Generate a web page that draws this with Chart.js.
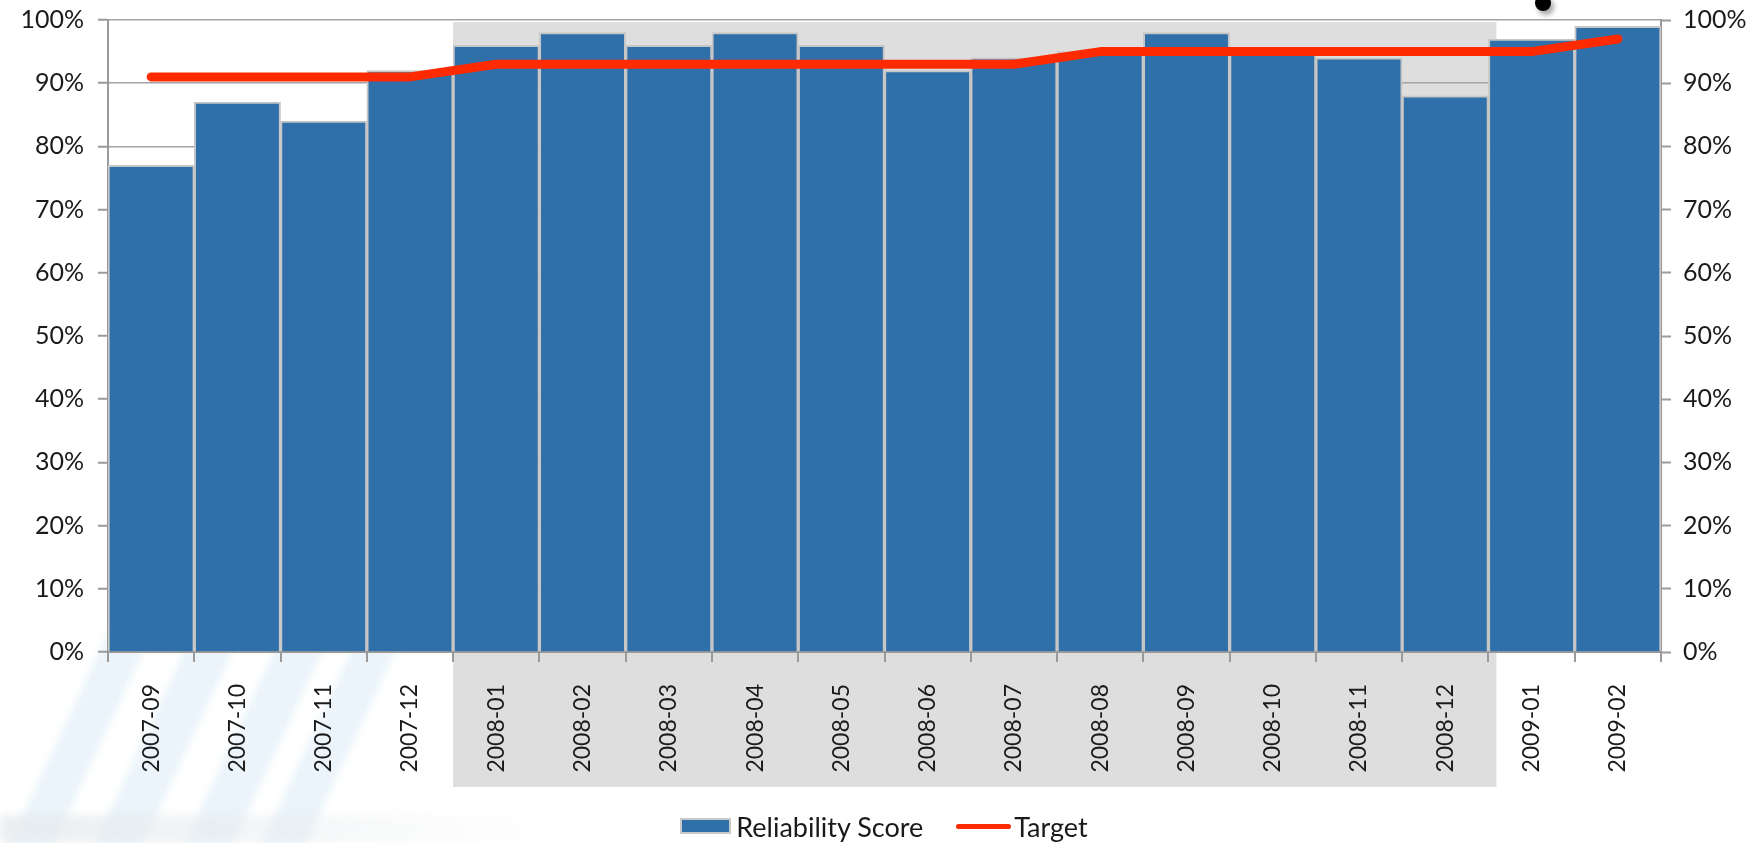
<!DOCTYPE html>
<html>
<head>
<meta charset="utf-8">
<script src="https://cdn.jsdelivr.net/npm/chart.js@4/dist/chart.umd.min.js"></script>
<style>
  html, body { margin: 0; padding: 0; background: #ffffff; overflow: hidden; }
  #wrap { position: relative; width: 1762px; height: 843px; }
  #deco { position: absolute; left: 0; top: 0; width: 1762px; height: 843px; overflow: hidden; z-index: 0; }
  .stripe { position: absolute; background: #eaf4fa; transform-origin: 0 100%; transform: skewX(-25deg); filter: blur(4px); }
  .floor { position: absolute; left: 0; top: 815px; width: 560px; height: 28px;
           background: linear-gradient(to right, rgba(230,234,237,0.8), rgba(255,255,255,0)); filter: blur(4px); }
  .dot { position: absolute; left: 1535px; top: -5px; width: 16px; height: 16px; border-radius: 50%;
         background: #000; box-shadow: 3px 4px 5px rgba(0,0,0,0.35); }
  #cv { position: absolute; left: 0; top: 0; z-index: 1; }
  #legend { position: absolute; left: 3px; top: 808px; width: 1762px; height: 36px; z-index: 2;
            display: flex; justify-content: center; align-items: center;
            font-family: Lato, "Open Sans", "DejaVu Sans", sans-serif; font-size: 27px; color: #1a1a1a; }
  .lg-box { width: 51px; height: 16px; box-sizing: border-box; border: 2px solid #c8c8c8; margin-right: 5px; }
  .lg-line { width: 55px; height: 5px; border-radius: 3px; margin-left: 33px; margin-right: 3px; }
</style>
</head>
<body>
<div id="wrap">
  <div id="deco">
    <div class="stripe" style="left:10px; top:400px; width:44px; height:443px;"></div>
    <div class="stripe" style="left:95px; top:560px; width:48px; height:283px;"></div>
    <div class="stripe" style="left:185px; top:600px; width:48px; height:243px;"></div>
    <div class="stripe" style="left:262px; top:640px; width:44px; height:203px;"></div>
    <div class="floor"></div>
    <div class="dot"></div>
  </div>
  <canvas id="cv" width="1762" height="843"></canvas>
  <div id="legend"></div>
</div>
<script>
// ---- data ----
const categories = ['2007-09','2007-10','2007-11','2007-12','2008-01','2008-02','2008-03','2008-04','2008-05','2008-06','2008-07','2008-08','2008-09','2008-10','2008-11','2008-12','2009-01','2009-02'];
const reliabilityScore = [77, 87, 84, 92, 96, 98, 96, 98, 96, 92, 94, 95, 98, 95, 94, 88, 97, 99];
const targetValues = [91, 91, 91, 91, 93, 93, 93, 93, 93, 93, 93, 95, 95, 95, 95, 95, 95, 97];
const yTickValues = [0, 10, 20, 30, 40, 50, 60, 70, 80, 90, 100];
const seriesNames = ['Reliability Score', 'Target'];
const bandFrom = '2008-01';
const bandTo = '2008-12';

// ---- styles ----
const barColor = '#2f6faa';
const barBorder = '#c6c6c6';
const lineColor = '#ff2a00';
const axisGray = '#9a9a9a';
const FONT = 'Lato, "Open Sans", "DejaVu Sans", sans-serif';

const bandPlugin = {
  id: 'band',
  beforeDraw(chart) {
    const { ctx, scales } = chart;
    const x = scales.x, y = scales.y;
    const step = x.width / categories.length;
    const i0 = categories.indexOf(bandFrom), i1 = categories.indexOf(bandTo);
    const left = x.getPixelForValue(i0) - step / 2;
    const right = x.getPixelForValue(i1) + step / 2 + 8;
    const top = y.getPixelForValue(100) + 2;
    const bottom = chart.chartArea.bottom + 135;
    ctx.save();
    ctx.fillStyle = '#dedede';
    ctx.fillRect(left, top, right - left, bottom - top);
    ctx.restore();
  }
};

Chart.defaults.font.family = FONT;
Chart.defaults.color = '#1a1a1a';

const chart = new Chart(document.getElementById('cv'), {
  data: {
    labels: categories,
    datasets: [
      {
        type: 'line',
        label: seriesNames[1],
        data: targetValues,
        borderColor: lineColor,
        backgroundColor: lineColor,
        borderWidth: 9,
        borderCapStyle: 'round',
        borderJoinStyle: 'round',
        pointRadius: 0,
        pointHoverRadius: 0,
        tension: 0,
        order: 0,
        yAxisID: 'y'
      },
      {
        type: 'bar',
        label: seriesNames[0],
        data: reliabilityScore,
        backgroundColor: barColor,
        borderColor: barBorder,
        borderWidth: 2,
        barPercentage: 1.0,
        categoryPercentage: 1.0,
        order: 1,
        yAxisID: 'y'
      }
    ]
  },
  options: {
    responsive: false,
    animation: false,
    events: [],
    layout: { padding: { top: 20, left: 0, right: 0, bottom: 0 } },
    plugins: {
      tooltip: { enabled: false },
      legend: { display: false }
    },
    scales: {
      x: {
        type: 'category',
        offset: true,
        grid: { display: true, drawOnChartArea: false, drawTicks: true, tickLength: 10, color: axisGray, lineWidth: 2, offset: true },
        border: { display: true, color: axisGray, width: 2 },
        ticks: { autoSkip: false, maxRotation: 90, minRotation: 90, padding: 22, font: { size: 23, family: FONT }, color: '#1a1a1a' },
        afterFit(scale) { scale.height = 191; }
      },
      y: {
        type: 'linear',
        position: 'left',
        min: 0, max: 100,
        afterBuildTicks(scale) { scale.ticks = yTickValues.map(v => ({ value: v })); },
        grid: { display: true, drawOnChartArea: true, color: '#a4a4a4', lineWidth: 1.5, borderDash: [5, 3], tickBorderDash: [], tickLength: 10, tickColor: axisGray, tickWidth: 2 },
        border: { display: true, color: axisGray, width: 2 },
        ticks: { padding: 14, font: { size: 25, family: FONT }, color: '#1a1a1a', callback: v => v + '%' },
        afterFit(scale) { scale.width = 108; scale.paddingTop = 0; scale.paddingBottom = 0; }
      },
      y2: {
        type: 'linear',
        position: 'right',
        min: 0, max: 100,
        afterBuildTicks(scale) { scale.ticks = yTickValues.map(v => ({ value: v })); },
        grid: { display: true, drawOnChartArea: false, tickLength: 10, tickColor: axisGray, tickWidth: 2, color: axisGray },
        border: { display: true, color: axisGray, width: 2 },
        ticks: { padding: 12, font: { size: 25, family: FONT }, color: '#1a1a1a', callback: v => v + '%' },
        afterFit(scale) { scale.width = 101; scale.paddingTop = 0; scale.paddingBottom = 0; }
      }
    }
  },
  plugins: [bandPlugin]
});

// HTML legend built from the chart's datasets
(function buildLegend() {
  const lg = document.getElementById('legend');
  const barDs = chart.data.datasets.find(d => d.type === 'bar');
  const lineDs = chart.data.datasets.find(d => d.type === 'line');
  const box = document.createElement('span');
  box.className = 'lg-box'; box.style.background = barDs.backgroundColor;
  const t1 = document.createElement('span'); t1.textContent = barDs.label;
  const ln = document.createElement('span');
  ln.className = 'lg-line'; ln.style.background = lineDs.borderColor;
  const t2 = document.createElement('span'); t2.textContent = lineDs.label;
  [box, t1, ln, t2].forEach(e => lg.appendChild(e));
})();
</script>
</body>
</html>
